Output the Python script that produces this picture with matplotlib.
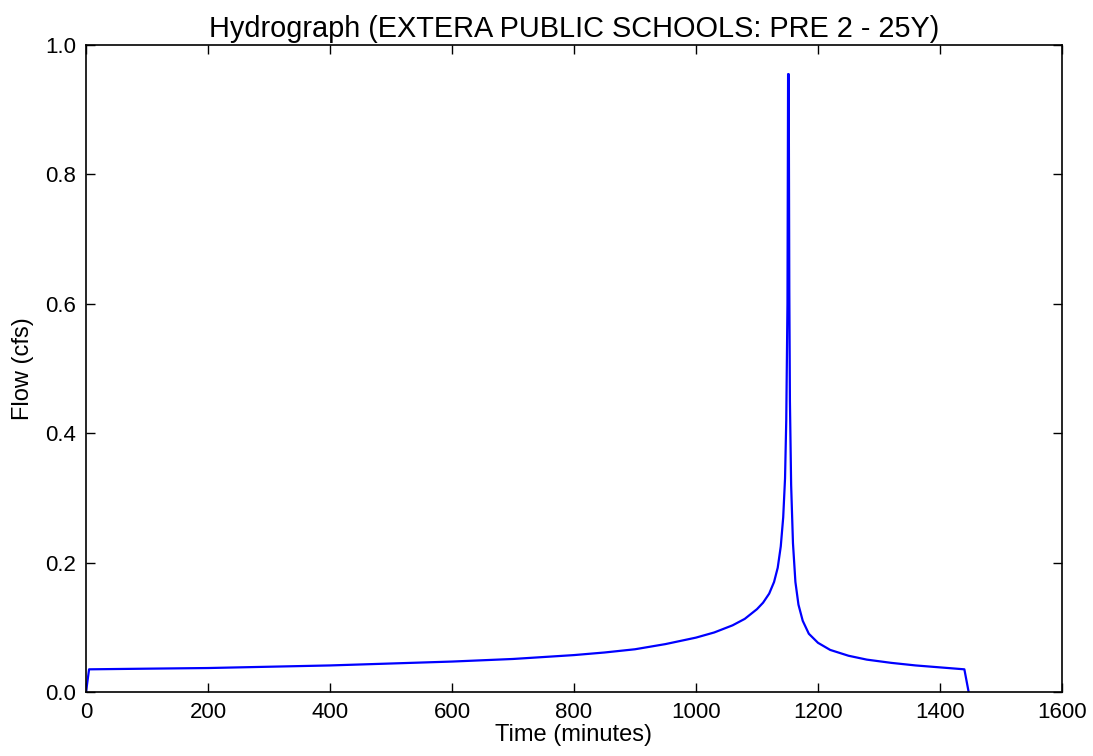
import matplotlib
matplotlib.use('Agg')
import matplotlib.pyplot as plt

# hydrograph values
time_min = [0, 5, 100, 200, 300, 400, 500, 600, 700, 800, 850, 900, 950,
            1000, 1030, 1060, 1080, 1100, 1110, 1120, 1128, 1134, 1139,
            1143, 1146, 1148, 1150, 1151, 1152, 1153, 1154, 1156, 1159,
            1163, 1168, 1175, 1185, 1200, 1220, 1250, 1280, 1320, 1360,
            1400, 1440, 1447]
flow_cfs = [0.0, 0.035, 0.036, 0.037, 0.039, 0.041, 0.044, 0.047, 0.051,
            0.057, 0.061, 0.066, 0.074, 0.084, 0.092, 0.103, 0.113, 0.128,
            0.138, 0.152, 0.170, 0.192, 0.225, 0.270, 0.330, 0.420, 0.600,
            0.955, 0.955, 0.620, 0.450, 0.320, 0.230, 0.170, 0.135, 0.110,
            0.090, 0.076, 0.065, 0.056, 0.050, 0.045, 0.041, 0.038, 0.035,
            0.0]

plt.rcParams['font.family'] = ['Liberation Sans', 'DejaVu Sans']

fig = plt.figure(figsize=(10.93, 7.56), dpi=100)
ax = fig.add_axes([0.0787, 0.0847, 0.8929, 0.8558])

ax.plot(time_min, flow_cfs, color='#0000ff', linewidth=1.6)

ax.set_xlim(0, 1600)
ax.set_ylim(0, 1.0)
ax.set_xticks(range(0, 1601, 200))
ax.set_yticks([0.0, 0.2, 0.4, 0.6, 0.8, 1.0])
ax.set_yticklabels(['0.0', '0.2', '0.4', '0.6', '0.8', '1.0'])
ax.tick_params(direction='in', top=True, right=True, length=6.5, width=1,
               labelsize=16, pad=7)
for s in ax.spines.values():
    s.set_linewidth(1.2)

ax.set_title('Hydrograph (EXTERA PUBLIC SCHOOLS: PRE 2 - 25Y)', fontsize=20.8, pad=6)
ax.set_xlabel('Time (minutes)', fontsize=17, labelpad=1)
ax.set_ylabel('Flow (cfs)', fontsize=17, labelpad=8)

fig.savefig('out.png', dpi=100)
